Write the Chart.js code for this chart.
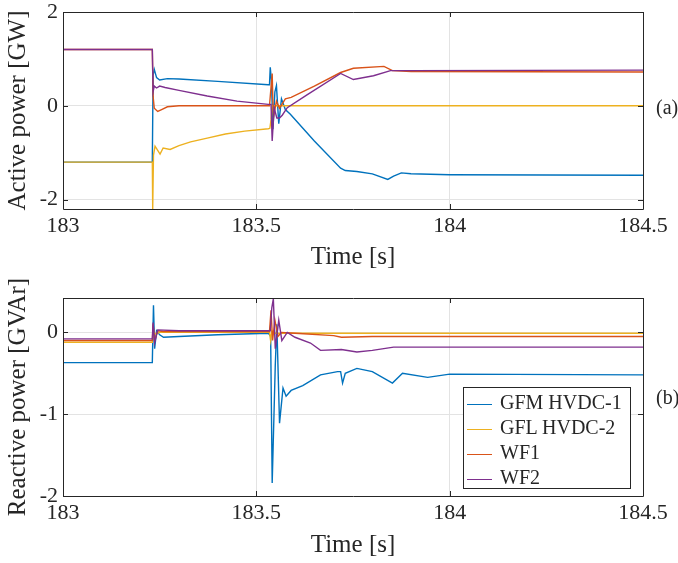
<html>
<head>
<meta charset="utf-8">
<script src="https://cdn.jsdelivr.net/npm/chart.js@4.4.1/dist/chart.umd.min.js"></script>
<style>
body{margin:0;background:#fff;width:678px;height:563px;position:relative;overflow:hidden;font-family:"Liberation Serif",serif;color:#262626;}
canvas{position:absolute;left:0;}
#chartP{top:0px;}
#chartQ{top:250px;}
.tag{position:absolute;left:656px;font-size:20px;line-height:20px;}
#legend{position:absolute;left:463px;top:387px;width:168px;height:102px;border:1px solid #262626;background:#fff;box-sizing:border-box;font-size:20px;padding-top:2px;}
#legend div{height:25px;line-height:25px;white-space:nowrap;}
#legend span.sw{display:inline-block;width:25px;height:0;border-top:1.5px solid;vertical-align:middle;margin:0 8px 0 3px;}
</style>
</head>
<body>
<canvas id="chartP" width="678" height="275"></canvas>
<canvas id="chartQ" width="678" height="313"></canvas>
<div class="tag" style="top:97px">(a)</div>
<div class="tag" style="top:387px">(b)</div>
<div id="legend"></div>
<script>
// series, in legend order
var seriesNames = ["GFM HVDC-1", "GFL HVDC-2", "WF1", "WF2"];
var seriesColors = ["#0072BD", "#EDB120", "#D95319", "#7E2F8E"];

var timeTicks = [183, 183.5, 184, 184.5];
var pTicks = [-2, 0, 2];
var qTicks = [-2, -1, 0];

// active power [GW]
var p_gfm_t = [183, 183.231, 183.233, 183.236, 183.242, 183.25, 183.27, 183.3, 183.4, 183.531, 183.534, 183.536, 183.539, 183.543, 183.548, 183.552, 183.558, 183.565, 183.575, 183.588, 183.65, 183.718, 183.73, 183.76, 183.8, 183.84, 183.855, 183.875, 183.9, 184, 184.5];
var p_gfm   = [-1.2, -1.2, 0.65, 0.78, 0.6, 0.55, 0.58, 0.57, 0.52, 0.45, 0.45, 0.82, 0.54, -0.5, 0.3, 0.43, -0.38, 0.15, -0.08, -0.18, -0.75, -1.33, -1.38, -1.4, -1.45, -1.57, -1.5, -1.43, -1.45, -1.47, -1.48];
var p_gfl_t = [183, 183.231, 183.232, 183.234, 183.238, 183.251, 183.259, 183.277, 183.3, 183.33, 183.373, 183.42, 183.47, 183.531, 183.535, 183.538, 183.541, 184.5];
var p_gfl   = [-1.2, -1.2, -2.2, -1.05, -0.86, -1.03, -0.9, -0.93, -0.85, -0.77, -0.69, -0.6, -0.54, -0.49, -0.48, -0.3, 0.0, 0.0];
var p_wf1_t = [183, 183.231, 183.233, 183.236, 183.245, 183.255, 183.27, 183.3, 183.534, 183.537, 183.541, 183.544, 183.552, 183.56, 183.575, 183.59, 183.65, 183.718, 183.751, 183.83, 183.852, 183.9, 184.5];
var p_wf1   = [1.2, 1.2, 0.2, -0.05, -0.12, -0.08, -0.02, 0.0, 0.0, 0.3, 0.69, -0.26, 0.1, -0.05, 0.15, 0.18, 0.42, 0.71, 0.8, 0.84, 0.75, 0.73, 0.72];
var p_wf2_t = [183, 183.231, 183.233, 183.236, 183.242, 183.25, 183.264, 183.3, 183.373, 183.45, 183.531, 183.538, 183.541, 183.546, 183.553, 183.56, 183.567, 183.58, 183.632, 183.718, 183.751, 183.803, 183.847, 183.9, 184.5];
var p_wf2   = [1.2, 1.2, 0.3, 0.42, 0.38, 0.42, 0.39, 0.33, 0.21, 0.1, 0.03, 0.03, -0.75, -0.04, -0.26, -0.26, -0.2, -0.04, 0.24, 0.69, 0.56, 0.64, 0.75, 0.75, 0.76];

// reactive power [GVAr]
var q_gfm_t = [183, 183.231, 183.234, 183.237, 183.242, 183.25, 183.26, 183.3, 183.4, 183.531, 183.537, 183.541, 183.549, 183.553, 183.56, 183.569, 183.577, 183.59, 183.62, 183.666, 183.71, 183.718, 183.723, 183.73, 183.76, 183.8, 183.852, 183.878, 183.943, 184, 184.5];
var q_gfm   = [-0.37, -0.37, 0.33, -0.2, 0.02, -0.03, -0.06, -0.05, -0.03, -0.01, -0.05, -1.84, -0.4, 0.1, -1.11, -0.68, -0.78, -0.71, -0.65, -0.52, -0.48, -0.48, -0.62, -0.5, -0.44, -0.48, -0.62, -0.5, -0.55, -0.51, -0.52];
var q_gfl_t = [183, 183.231, 183.234, 183.24, 183.25, 183.534, 183.537, 183.54, 183.545, 184.5];
var q_gfl   = [-0.12, -0.12, 0.0, -0.02, 0.0, 0.0, -0.1, 0.02, -0.01, -0.01];
var q_wf1_t = [183, 183.231, 183.233, 183.237, 183.245, 183.26, 183.534, 183.538, 183.542, 183.548, 183.556, 183.565, 183.6, 183.7, 183.72, 183.8, 184.5];
var q_wf1   = [-0.1, -0.1, 0.1, -0.1, 0.02, 0.01, 0.01, 0.27, -0.1, 0.15, -0.05, 0.0, -0.01, -0.04, -0.06, -0.05, -0.05];
var q_wf2_t = [183, 183.231, 183.233, 183.237, 183.245, 183.3, 183.536, 183.54, 183.544, 183.549, 183.558, 183.566, 183.58, 183.6, 183.64, 183.666, 183.72, 183.76, 183.8, 183.855, 184.5];
var q_wf2   = [-0.08, -0.08, 0.12, -0.13, 0.03, 0.02, 0.02, 0.3, 0.41, -0.2, 0.15, -0.1, 0.0, -0.06, -0.13, -0.22, -0.21, -0.24, -0.22, -0.18, -0.18];

var textColor = "#262626";
var gridColor = "#e3e3e3";
var serif = "'Liberation Serif', serif";
Chart.defaults.font.family = serif;
Chart.defaults.color = textColor;

function pts(t, v) {
  var out = [];
  for (var i = 0; i < t.length; i++) out.push({x: t[i], y: v[i]});
  return out;
}

function makeSets(list) {
  var sets = [];
  for (var i = 0; i < list.length; i++) {
    sets.push({
      label: seriesNames[i],
      data: pts(list[i][0], list[i][1]),
      borderColor: seriesColors[i],
      borderWidth: 1.4,
      pointRadius: 0,
      tension: 0,
      order: list.length - 1 - i
    });
  }
  return sets;
}

// box round the plot area + inward tick marks, like matlab
var boxPlugin = {
  id: "box",
  afterDraw: function(chart) {
    var a = chart.chartArea, ctx = chart.ctx;
    var xs = chart.scales.x, ys = chart.scales.y;
    ctx.save();
    ctx.strokeStyle = textColor;
    ctx.lineWidth = 1;
    ctx.beginPath();
    ctx.rect(Math.round(a.left) + 0.5, Math.round(a.top) + 0.5, Math.round(a.right - a.left), Math.round(a.bottom - a.top));
    xs.ticks.forEach(function(t) {
      var px = Math.round(xs.getPixelForValue(t.value)) + 0.5;
      ctx.moveTo(px, a.bottom); ctx.lineTo(px, a.bottom - 5);
      ctx.moveTo(px, a.top); ctx.lineTo(px, a.top + 5);
    });
    ys.ticks.forEach(function(t) {
      var py = Math.round(ys.getPixelForValue(t.value)) + 0.5;
      ctx.moveTo(a.left, py); ctx.lineTo(a.left + 5, py);
      ctx.moveTo(a.right, py); ctx.lineTo(a.right - 5, py);
    });
    ctx.stroke();
    ctx.restore();
  }
};

function makeOptions(yMin, yMax, yTicks, yTitle, xHeight, padTop) {
  return {
    responsive: false,
    animation: false,
    layout: {padding: {top: padTop, right: 35, left: 0, bottom: 0}},
    plugins: {legend: {display: false}, tooltip: {enabled: false}},
    scales: {
      x: {
        type: "linear",
        min: 183, max: 184.5,
        afterBuildTicks: function(s) { s.ticks = timeTicks.map(function(v) { return {value: v}; }); },
        afterFit: function(s) { s.height = xHeight; s.paddingLeft = 0; s.paddingRight = 0; },
        grid: {color: gridColor, drawTicks: false},
        border: {display: false},
        ticks: {color: textColor, padding: 4, maxRotation: 0, font: {family: serif, size: 22},
          callback: function(v) { return String(v); }},
        title: {display: true, text: "Time [s]", color: textColor, padding: {top: 0, bottom: 3},
          font: {family: serif, size: 25}}
      },
      y: {
        min: yMin, max: yMax,
        afterBuildTicks: function(s) { s.ticks = yTicks.map(function(v) { return {value: v}; }); },
        afterFit: function(s) { s.width = 63; s.paddingTop = 0; s.paddingBottom = 0; },
        grid: {color: gridColor, drawTicks: false},
        border: {display: false},
        ticks: {color: textColor, padding: 5, font: {family: serif, size: 22},
          callback: function(v) { return String(v); }},
        title: {display: true, text: yTitle, color: textColor, padding: {top: 3, bottom: 0},
          font: {family: serif, size: 25}}
      }
    }
  };
}

new Chart(document.getElementById("chartP"), {
  type: "line",
  data: {datasets: makeSets([[p_gfm_t, p_gfm], [p_gfl_t, p_gfl], [p_wf1_t, p_wf1], [p_wf2_t, p_wf2]])},
  options: makeOptions(-2.2, 2, pTicks, "Active power [GW]", 66, 12),
  plugins: [boxPlugin]
});

new Chart(document.getElementById("chartQ"), {
  type: "line",
  data: {datasets: makeSets([[q_gfm_t, q_gfm], [q_gfl_t, q_gfl], [q_wf1_t, q_wf1], [q_wf2_t, q_wf2]])},
  options: makeOptions(-2, 0.42, qTicks, "Reactive power [GVAr]", 67, 48),
  plugins: [boxPlugin]
});

// legend
var lg = "";
for (var i = 0; i < seriesNames.length; i++) {
  lg += '<div><span class="sw" style="border-color:' + seriesColors[i] + '"></span>' + seriesNames[i] + '</div>';
}
document.getElementById("legend").innerHTML = lg;
</script>
</body>
</html>
